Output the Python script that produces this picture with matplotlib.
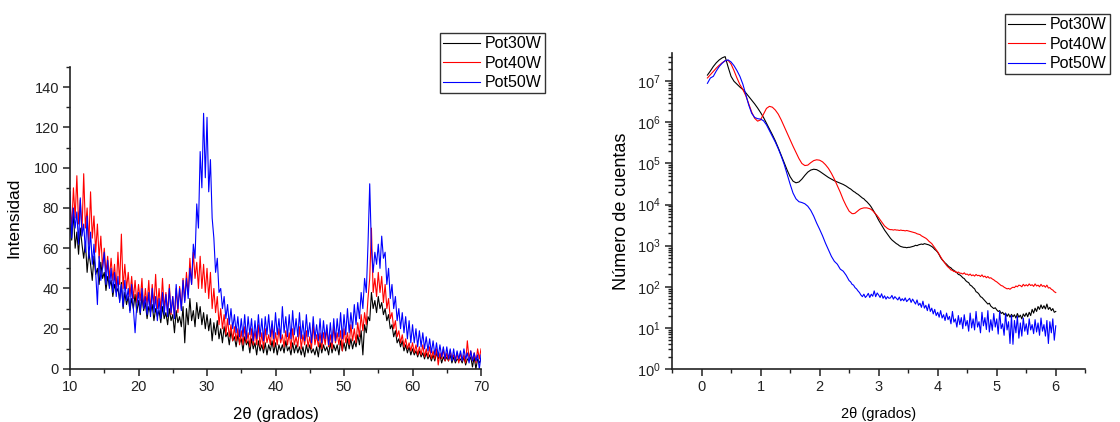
import numpy as np
import matplotlib
matplotlib.use("Agg")
import matplotlib.pyplot as plt
from matplotlib.ticker import MultipleLocator, LogLocator, LogFormatterSciNotation, NullFormatter

plt.rcParams['font.family'] = ['Liberation Sans', 'DejaVu Sans']
plt.rcParams['mathtext.fontset'] = 'custom'
plt.rcParams['mathtext.rm'] = 'Liberation Sans'

labels = ["Pot30W", "Pot40W", "Pot50W"]
colors = ["black", "red", "blue"]

# ---------------- XRD (left) : 2theta from 10 to 70, step 0.25 ----------------
xrd_2theta = np.arange(10.0, 70.0001, 0.25)

xrd_pot30 = [
72, 64, 78, 60, 68, 57, 70, 62, 55, 63, 48, 58, 52, 44, 56, 47, 50, 42, 53, 45,
48, 39, 46, 41, 44, 36, 42, 38, 40, 34, 43, 30, 38, 32, 36, 29, 35, 30, 37, 28,
34, 27, 36, 29, 33, 25, 31, 28, 32, 24, 30, 26, 29, 23, 31, 25, 28, 22, 30, 24,
27, 18, 29, 23, 26, 21, 31, 13, 30, 22, 35, 24, 29, 21, 33, 25, 31, 22, 28, 20,
27, 19, 25, 14, 23, 17, 24, 15, 20, 13, 21, 16, 18, 12, 19, 14, 16, 11, 17, 13,
15, 9, 16, 12, 14, 8, 15, 10, 13, 7, 14, 9, 12, 8, 13, 7, 12, 9, 14, 8,
13, 7, 12, 9, 12, 8, 14, 9, 11, 7, 13, 8, 12, 8, 11, 7, 11, 6, 12, 8,
12, 8, 10, 7, 11, 6, 13, 8, 12, 9, 11, 7, 13, 8, 12, 9, 12, 7, 14, 9,
13, 9, 15, 10, 15, 10, 14, 11, 17, 12, 19, 7, 22, 18, 26, 24, 38, 30, 34, 28,
36, 30, 33, 27, 30, 24, 27, 20, 22, 16, 19, 13, 15, 11, 14, 9, 12, 8, 11, 7,
10, 7, 9, 6, 9, 6, 8, 5, 8, 5, 7, 4, 7, 4, 8, 5, 7, 3, 6, 4,
6, 4, 7, 3, 6, 3, 5, 4, 5, 3, 6, 2, 5, 4, 6, 1, 6, 0, 5, 3,
5]

xrd_pot40 = [
82, 70, 90, 75, 96, 72, 84, 68, 97, 70, 80, 62, 88, 65, 76, 58, 72, 55, 66, 50,
60, 48, 56, 45, 55, 44, 52, 40, 58, 42, 67, 40, 52, 40, 48, 36, 46, 35, 44, 33,
42, 34, 45, 30, 40, 32, 44, 29, 42, 31, 47, 30, 40, 29, 45, 30, 38, 28, 42, 27,
36, 26, 40, 28, 41, 30, 45, 34, 48, 37, 55, 42, 58, 45, 53, 40, 56, 40, 52, 38,
50, 35, 48, 30, 40, 28, 36, 22, 30, 20, 27, 17, 25, 16, 22, 14, 21, 14, 20, 12,
19, 12, 21, 13, 18, 11, 20, 12, 19, 12, 22, 11, 18, 10, 20, 13, 17, 12, 22, 11,
18, 12, 20, 13, 17, 11, 19, 12, 18, 10, 20, 12, 16, 11, 21, 10, 17, 12, 19, 11,
16, 10, 22, 12, 17, 11, 18, 10, 18, 12, 20, 11, 17, 10, 21, 13, 18, 12, 19, 9,
20, 13, 18, 12, 22, 14, 20, 13, 23, 16, 27, 19, 28, 22, 35, 45, 70, 38, 45, 36,
48, 38, 46, 33, 42, 30, 35, 25, 28, 20, 24, 16, 19, 13, 17, 11, 15, 10, 13, 9,
13, 8, 12, 7, 11, 7, 12, 6, 10, 6, 11, 5, 9, 5, 10, 2, 8, 5, 10, 4,
8, 4, 9, 5, 7, 4, 8, 3, 8, 4, 7, 3, 14, 5, 9, 4, 8, 3, 10, 5,
10]

xrd_pot50 = [
88, 65, 80, 70, 78, 62, 85, 66, 72, 58, 76, 55, 68, 52, 62, 48, 32, 56, 44, 50,
58, 42, 54, 40, 50, 38, 48, 36, 46, 33, 42, 31, 44, 34, 40, 28, 42, 30, 18, 32,
38, 28, 40, 30, 36, 27, 38, 26, 40, 28, 36, 24, 35, 25, 38, 27, 37, 26, 40, 28,
36, 25, 42, 30, 40, 29, 44, 33, 45, 35, 50, 42, 62, 55, 82, 70, 108, 90, 127, 95,
125, 88, 104, 75, 65, 48, 55, 38, 40, 30, 36, 25, 32, 22, 30, 20, 27, 18, 26, 16,
25, 16, 27, 15, 26, 17, 25, 14, 24, 15, 27, 16, 25, 14, 26, 17, 27, 16, 24, 15,
28, 17, 25, 15, 31, 18, 26, 16, 27, 15, 29, 17, 25, 16, 28, 15, 24, 14, 27, 16,
23, 13, 26, 15, 22, 14, 25, 13, 24, 15, 22, 12, 23, 13, 25, 14, 25, 16, 28, 15,
27, 17, 30, 18, 28, 20, 32, 22, 33, 25, 38, 30, 45, 38, 62, 92, 60, 48, 58, 52,
62, 50, 66, 55, 58, 42, 50, 35, 42, 30, 36, 24, 30, 20, 28, 18, 26, 15, 24, 13,
22, 13, 20, 11, 19, 11, 18, 10, 16, 9, 15, 8, 14, 7, 13, 6, 12, 6, 11, 5,
11, 5, 10, 4, 10, 4, 9, 5, 9, 4, 10, 5, 8, 3, 9, 4, 8, 4, 7, 0,
7]

# ---------------- XRR (right) : log10 of counts ----------------
xrr_2theta = np.concatenate([np.arange(0.10, 2.4751, 0.05), np.arange(2.50, 6.0001, 0.025)])

xrr_pot30_log10 = [
7.15, 7.25, 7.36, 7.45, 7.52, 7.57, 7.60, 7.35, 7.12, 7.00, 6.93, 6.86, 6.80, 6.72, 6.63, 6.54,
6.45, 6.35, 6.24, 6.12, 5.98, 5.84, 5.70, 5.55, 5.38, 5.20, 5.02, 4.84, 4.68, 4.57, 4.53, 4.55,
4.62, 4.71, 4.79, 4.84, 4.86, 4.85, 4.81, 4.76, 4.71, 4.66, 4.62, 4.58, 4.55, 4.52, 4.49, 4.45,
4.40, 4.38, 4.35, 4.32, 4.30, 4.27, 4.25, 4.22, 4.19, 4.16, 4.14, 4.10, 4.07, 4.03, 3.99, 3.94,
3.88, 3.82, 3.76, 3.69, 3.62, 3.56, 3.50, 3.44, 3.38, 3.33, 3.28, 3.23, 3.18, 3.14, 3.11, 3.08,
3.05, 3.03, 3.00, 2.98, 2.97, 2.96, 2.96, 2.95, 2.96, 2.96, 2.97, 2.98, 2.99, 3.01, 3.00, 3.02,
3.03, 3.04, 3.03, 3.05, 3.04, 3.03, 3.02, 3.00, 2.98, 2.95, 2.91, 2.88, 2.84, 2.78, 2.71, 2.66,
2.62, 2.58, 2.55, 2.51, 2.48, 2.46, 2.42, 2.40, 2.36, 2.35, 2.30, 2.29, 2.26, 2.22, 2.20, 2.15,
2.12, 2.10, 2.04, 2.02, 1.98, 1.95, 1.88, 1.86, 1.82, 1.76, 1.74, 1.70, 1.66, 1.62, 1.58, 1.60,
1.53, 1.50, 1.47, 1.49, 1.44, 1.40, 1.42, 1.35, 1.38, 1.32, 1.36, 1.28, 1.34, 1.26, 1.33, 1.27,
1.32, 1.24, 1.35, 1.26, 1.31, 1.22, 1.34, 1.28, 1.36, 1.27, 1.38, 1.30, 1.45, 1.36, 1.48, 1.40,
1.52, 1.45, 1.56, 1.47, 1.54, 1.46, 1.58, 1.45, 1.50, 1.42, 1.47, 1.38, 1.40]

xrr_pot40_log10 = [
7.08, 7.16, 7.24, 7.32, 7.39, 7.45, 7.50, 7.51, 7.42, 7.26, 7.08, 6.92, 6.80, 6.65, 6.45, 6.25,
6.10, 6.03, 6.06, 6.20, 6.34, 6.39, 6.37, 6.30, 6.20, 6.06, 5.90, 5.74, 5.58, 5.42, 5.27, 5.12,
5.00, 4.95, 4.96, 5.02, 5.07, 5.09, 5.08, 5.04, 4.97, 4.88, 4.76, 4.62, 4.46, 4.30, 4.12, 3.97,
3.84, 3.81, 3.78, 3.78, 3.79, 3.82, 3.85, 3.88, 3.90, 3.91, 3.92, 3.92, 3.92, 3.91, 3.90, 3.88,
3.85, 3.81, 3.77, 3.73, 3.68, 3.63, 3.58, 3.53, 3.48, 3.45, 3.42, 3.40, 3.39, 3.39, 3.38, 3.39,
3.38, 3.38, 3.37, 3.38, 3.37, 3.37, 3.36, 3.37, 3.36, 3.35, 3.34, 3.33, 3.32, 3.31, 3.29, 3.28,
3.27, 3.24, 3.22, 3.20, 3.18, 3.15, 3.11, 3.08, 3.05, 3.00, 2.95, 2.90, 2.85, 2.79, 2.73, 2.67,
2.62, 2.57, 2.52, 2.48, 2.45, 2.41, 2.40, 2.37, 2.38, 2.34, 2.36, 2.33, 2.33, 2.31, 2.34, 2.30,
2.31, 2.28, 2.31, 2.27, 2.29, 2.26, 2.30, 2.27, 2.28, 2.25, 2.29, 2.24, 2.26, 2.22, 2.25, 2.21,
2.22, 2.19, 2.17, 2.14, 2.12, 2.09, 2.06, 2.03, 2.02, 1.99, 1.97, 1.95, 1.96, 1.94, 1.97, 1.99,
1.98, 2.02, 2.00, 2.04, 2.03, 2.00, 2.06, 2.02, 2.05, 2.02, 2.07, 2.03, 2.05, 2.01, 2.07, 2.02,
2.04, 2.00, 2.06, 2.01, 2.03, 1.99, 2.04, 1.97, 1.98, 1.94, 1.92, 1.88, 1.86]

xrr_pot50_log10 = [
6.95, 7.08, 7.12, 7.25, 7.36, 7.44, 7.50, 7.52, 7.47, 7.38, 7.26, 7.12, 6.93, 6.68, 6.42, 6.22,
6.12, 6.09, 6.08, 6.04, 5.94, 5.80, 5.66, 5.52, 5.36, 5.18, 4.98, 4.74, 4.50, 4.28, 4.14, 4.07,
4.05, 4.02, 3.96, 3.86, 3.72, 3.55, 3.40, 3.24, 3.06, 2.90, 2.74, 2.62, 2.55, 2.43, 2.38, 2.28,
2.15, 2.12, 2.06, 2.04, 1.98, 1.95, 1.90, 1.86, 1.80, 1.76, 1.82, 1.74, 1.78, 1.84, 1.74, 1.82,
1.77, 1.90, 1.76, 1.85, 1.80, 1.74, 1.83, 1.72, 1.78, 1.70, 1.76, 1.72, 1.73, 1.79, 1.70, 1.76,
1.72, 1.68, 1.75, 1.66, 1.71, 1.66, 1.73, 1.64, 1.68, 1.72, 1.62, 1.70, 1.64, 1.58, 1.68, 1.55,
1.60, 1.50, 1.65, 1.48, 1.55, 1.42, 1.58, 1.40, 1.48, 1.34, 1.45, 1.30, 1.38, 1.26, 1.42, 1.24,
1.32, 1.18, 1.36, 1.20, 1.28, 1.10, 1.40, 1.14, 1.22, 1.02, 1.30, 1.08, 1.25, 0.98, 1.32, 1.05,
1.18, 0.92, 1.36, 1.00, 1.22, 0.95, 1.40, 1.02, 1.15, 0.88, 1.38, 1.05, 1.25, 0.96, 1.42, 0.90,
1.20, 0.94, 1.35, 1.02, 1.22, 0.85, 1.40, 0.98, 1.10, 0.82, 1.35, 0.95, 1.15, 0.62, 1.30, 0.60,
1.18, 0.88, 1.28, 0.75, 1.12, 0.80, 1.24, 0.92, 1.10, 0.84, 1.22, 0.95, 1.08, 0.86, 1.20, 0.90,
1.12, 0.82, 1.24, 0.92, 1.08, 0.80, 1.18, 0.62, 1.15, 0.88, 1.22, 0.70, 1.05]

# ---------------- figure ----------------
fig = plt.figure(figsize=(11.2, 4.22), dpi=100)
ax1 = fig.add_axes([0.0625, 0.1256, 0.367, 0.7156])
ax2 = fig.add_axes([0.600, 0.1256, 0.369, 0.749])

for ax in (ax1, ax2):
    for s in ("top", "right"):
        ax.spines[s].set_visible(False)
    for s in ("left", "bottom"):
        ax.spines[s].set_linewidth(1.2)
        ax.spines[s].set_color("#222222")
    ax.tick_params(which="major", direction="out", length=5, width=1.1, labelsize=10.5, colors="#222222", pad=3)
    ax.tick_params(which="minor", direction="out", length=3, width=1.0, colors="#222222")

# left
lines1 = []
for ys, c, lab in zip([xrd_pot30, xrd_pot40, xrd_pot50], colors, labels):
    l, = ax1.plot(xrd_2theta, ys, color=c, lw=0.8, label=lab)
    lines1.append(l)
ax1.set_xlim(10, 70)
ax1.set_ylim(0, 150)
ax1.xaxis.set_major_locator(MultipleLocator(10))
ax1.xaxis.set_minor_locator(MultipleLocator(5))
ax1.yaxis.set_minor_locator(MultipleLocator(10))
ax1.set_yticks([0, 20, 40, 60, 80, 100, 120, 140])
ax1.set_xlabel("2\u03b8 (grados)", fontsize=12, labelpad=9)
ax1.set_ylabel("Intensidad", fontsize=12.5, labelpad=9)

leg_kw = dict(loc="upper left", fontsize=11.5, frameon=True, fancybox=False, edgecolor="black",
              handlelength=2.3, handletextpad=0.3, labelspacing=0.28, borderpad=0.2,
              borderaxespad=0)
leg1 = fig.legend(handles=lines1, bbox_to_anchor=(440/1120, 1 - 33/422), **leg_kw)
leg1.get_frame().set_linewidth(1.0)

# right
lines2 = []
for ys, c, lab in zip([xrr_pot30_log10, xrr_pot40_log10, xrr_pot50_log10], colors, labels):
    l, = ax2.plot(xrr_2theta, 10.0 ** np.asarray(ys), color=c, lw=0.8, label=lab)
    lines2.append(l)
ax2.set_yscale("log")
ax2.set_xlim(-0.5, 6.5)
ax2.set_ylim(1, 10 ** 7.69)
ax2.xaxis.set_major_locator(MultipleLocator(1))
ax2.xaxis.set_minor_locator(MultipleLocator(0.5))
ax2.yaxis.set_major_locator(LogLocator(base=10, numticks=20))
ax2.yaxis.set_minor_locator(LogLocator(base=10, subs=np.arange(2, 10), numticks=20))
ax2.yaxis.set_major_formatter(LogFormatterSciNotation())
ax2.yaxis.set_minor_formatter(NullFormatter())
ax2.set_xlabel("2\u03b8 (grados)", fontsize=10.5, labelpad=9)
ax2.set_ylabel("N\u00famero de cuentas", fontsize=13, labelpad=5)

leg2 = fig.legend(handles=lines2, bbox_to_anchor=(1005/1120, 1 - 14/422), **leg_kw)
leg2.get_frame().set_linewidth(1.0)

fig.savefig("out.png", dpi=100)
